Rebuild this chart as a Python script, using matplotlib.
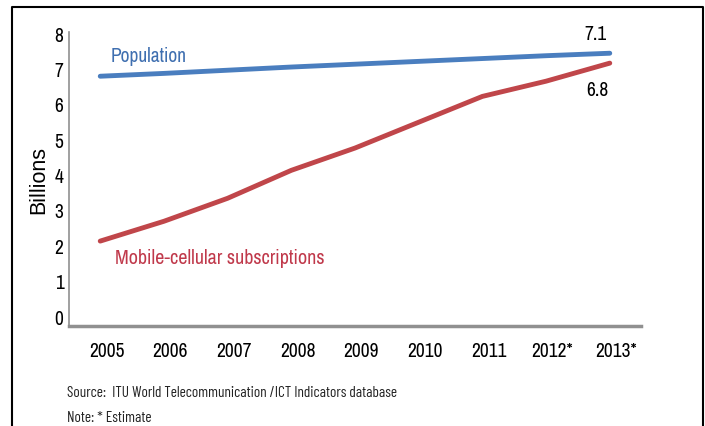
import matplotlib.pyplot as plt
from matplotlib.lines import Line2D

years = ['2005', '2006', '2007', '2008', '2009', '2010', '2011', '2012*', '2013*']
population = [6.78, 6.86, 6.95, 7.04, 7.12, 7.2, 7.28, 7.36, 7.43]
mobile = [2.12, 2.68, 3.33, 4.12, 4.75, 5.48, 6.21, 6.64, 7.15]
yticks = [0, 1, 2, 3, 4, 5, 6, 7, 8]

narrow = ['Archivo Narrow', 'DejaVu Sans']
cond = ['Barlow Condensed', 'DejaVu Sans']
blue = '#4a7ebf'
red = '#c0464a'

fig = plt.figure(figsize=(7.05, 4.27), dpi=100)
ax = fig.add_axes([0.0979, 0.2342, 0.8113, 0.6885])

x = list(range(len(years)))
ax.plot(x, population, color=blue, lw=3.5, solid_capstyle='round')
ax.plot(x, mobile, color=red, lw=3.5, solid_capstyle='round')

ax.set_xlim(-0.49, 8.49)
ax.set_ylim(-0.28, 8.03)
ax.set_yticks(yticks)
ax.set_yticklabels([str(v) for v in yticks], fontsize=14, family=narrow, weight='medium')
ax.set_xticks([i + 0.1 for i in x])
ax.set_xticklabels(years, fontsize=14, family=narrow, weight='medium')
ax.tick_params(axis='both', length=0)
ax.tick_params(axis='x', pad=11)
ax.tick_params(axis='y', pad=4)

for s in ['top', 'right']:
    ax.spines[s].set_visible(False)
ax.spines['left'].set_color('#909090')
ax.spines['left'].set_linewidth(1.2)
ax.spines['bottom'].set_color('#909090')
ax.spines['bottom'].set_linewidth(2.5)

ax.set_ylabel('Billions', fontsize=15.5, family=['Liberation Sans'], labelpad=4)

# series labels
ax.text(0.17, 7.2, 'Population', color='#3f6fb0', fontsize=14, family=narrow)
ax.text(0.23, 1.5, 'Mobile-cellular subscriptions', color='#c0394b', fontsize=14.5, family=narrow)
ax.text(7.78, 8.0, '7.1', fontsize=14, family=narrow, ha='center', va='center')
ax.text(7.8, 6.4, '6.8', fontsize=14, family=narrow, ha='center', va='center')

fig.text(67 / 705, 1 - 393 / 427, 'Source:  ITU World Telecommunication /ICT Indicators database',
         fontsize=11, family=cond, va='center', color='#222222')
fig.text(67 / 705, 1 - 418 / 427, 'Note: * Estimate',
         fontsize=11, family=cond, va='center', color='#222222')

# outer frame (left, top, right)
fx0, fx1 = 12 / 705, 703 / 705
fy0, fy1 = 0.0, 1 - 8 / 427
fig.add_artist(Line2D([fx0, fx0, fx1, fx1], [fy0, fy1, fy1, fy0], color='black', lw=1.5,
                      transform=fig.transFigure))

fig.savefig('out.png', dpi=100)
